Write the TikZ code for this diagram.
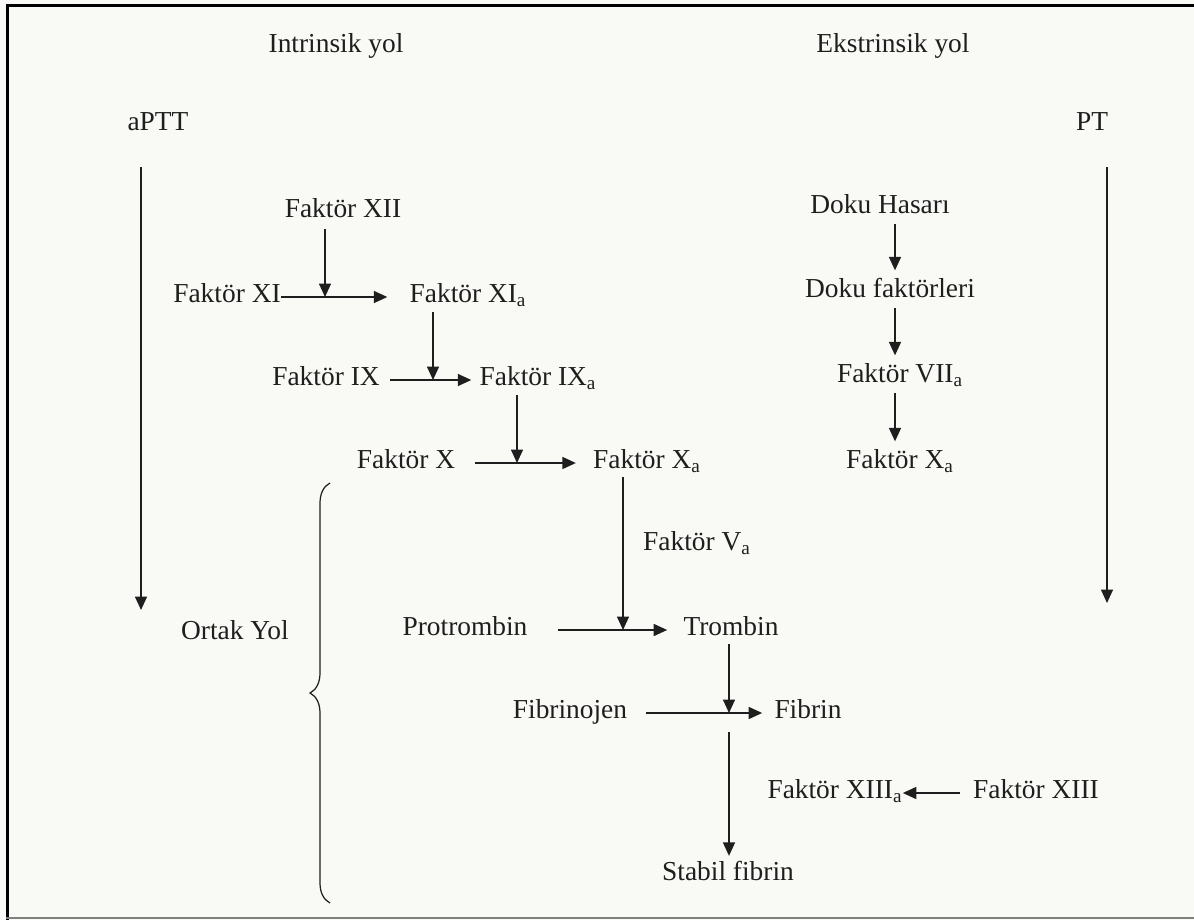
\documentclass[tikz,border=0pt]{standalone}
\usepackage{fontspec}
\setmainfont{Liberation Serif}
\usetikzlibrary{arrows.meta,decorations.pathreplacing}
\definecolor{inkgray}{RGB}{30,30,30}
\definecolor{paper}{RGB}{249,249,245}

\begin{document}
\begin{tikzpicture}[x=0.02cm, y=-0.02cm,
    lbl/.style={inner sep=0pt, text height=0.66em, text depth=0pt,
        font=\fontsize{15.6}{18}\selectfont, text=inkgray},
    flow/.style={->, line width=0.9pt, draw=inkgray},
    >={Triangle[length=2.7mm,width=2.4mm]}]
    \useasboundingbox (0,0) rectangle (1194,920);
    \fill[paper] (0,0) rectangle (1194,920);

    % frame
    \draw[line width=0.6mm] (7.5,920) -- (7.5,5) -- (1194,5);
    \draw[line width=0.4mm, gray] (6,918) -- (1194,918);

    % headings
    \node[lbl] (intr) at (336,47) {Intrinsik yol};
    \node[lbl] (ekst) at (893,47) {Ekstrinsik yol};
    \node[lbl] (aptt) at (158,125) {aPTT};
    \node[lbl] (pt) at (1092,125) {PT};

    % test arrows
    \coordinate (aend) at (141,610);
    \coordinate (pend) at (1107,603);
    \draw[flow, shorten <=7.2mm] (aend |- aptt.south) -- (aend);
    \draw[flow, shorten <=7.2mm] (pend |- pt.south) -- (pend);

    % intrinsic pathway
    \node[lbl] (f12) at (343,212) {Faktör XII};
    \node[lbl] (f11) at (227,297) {Faktör XI};
    \node[lbl] (f11a) at (468,297) {Faktör XI\textsubscript{a}};
    \node[lbl] (f9) at (326,380) {Faktör IX};
    \node[lbl] (f9a) at (538,380) {Faktör IX\textsubscript{a}};
    \node[lbl] (f10) at (406,463) {Faktör X};
    \node[lbl] (f10a) at (647,463) {Faktör X\textsubscript{a}};

    \coordinate (j1) at (325,297);
    \coordinate (j2) at (433,380);
    \coordinate (j3) at (517,463);
    \draw[flow, shorten >=4.4mm] (f11.east) -- (f11a.west);
    \draw[flow, shorten <=2mm, shorten >=1.6mm] (f9.east) -- (f9a.west);
    \draw[flow, shorten <=4mm, shorten >=3.4mm] (f10.east) -- (f10a.west);
    \draw[flow, shorten <=2.2mm] (j1 |- f12.south) -- (j1);
    \draw[flow, shorten <=1.8mm] (j2 |- f11a.south) -- (j2);
    \draw[flow, shorten <=1.8mm] (j3 |- f9a.south) -- (j3);

    % extrinsic pathway
    \node[lbl] (doku) at (880,208) {Doku Hasarı};
    \node[lbl] (dokuf) at (890,292) {Doku faktörleri};
    \node[lbl] (f7a) at (900,377) {Faktör VII\textsubscript{a}};
    \node[lbl] (f10ax) at (900,463) {Faktör X\textsubscript{a}};
    \coordinate (ecol) at (895,0);
    \foreach \a/\b in {doku/dokuf, dokuf/f7a, f7a/f10ax} {
        \draw[flow, shorten <=2mm, shorten >=3.1mm] (ecol |- \a.south) -- (ecol |- \b.north);
    }

    % common pathway
    \node[lbl] (ortak) at (235,634) {Ortak Yol};
    \draw[inkgray, line width=0.7pt, decorate, decoration={brace, amplitude=4mm}]
        (330,903) -- (330,483);

    \node[lbl] (f5a) at (697,545) {Faktör V\textsubscript{a}};
    \node[lbl] (protr) at (465,630) {Protrombin};
    \node[lbl] (tromb) at (731,630) {Trombin};
    \node[lbl] (fibjen) at (570,713) {Fibrinojen};
    \node[lbl] (fibrin) at (808,713) {Fibrin};
    \node[lbl] (f13a) at (835,793) {Faktör XIII\textsubscript{a}};
    \node[lbl] (f13) at (1036,793) {Faktör XIII};
    \node[lbl] (stabil) at (728,875) {Stabil fibrin};

    \coordinate (j4) at (623,630);
    \coordinate (j5) at (729,713);
    \coordinate (j6) at (729,732);
    \draw[flow, shorten <=1.6mm] (j4 |- f10a.south) -- (j4);
    \draw[flow, shorten <=6mm, shorten >=3.2mm] (protr.east) -- (tromb.west);
    \draw[flow, shorten <=1.6mm] (j5 |- tromb.south) -- (j5);
    \draw[flow, shorten <=3.8mm, shorten >=2.4mm] (fibjen.east) -- (fibrin.west);
    \draw[flow, shorten >=2.6mm] (j6) -- (j6 |- stabil.north);
    \draw[flow, shorten <=2.6mm] (f13.west) -- (f13a.east);
\end{tikzpicture}
\end{document}
